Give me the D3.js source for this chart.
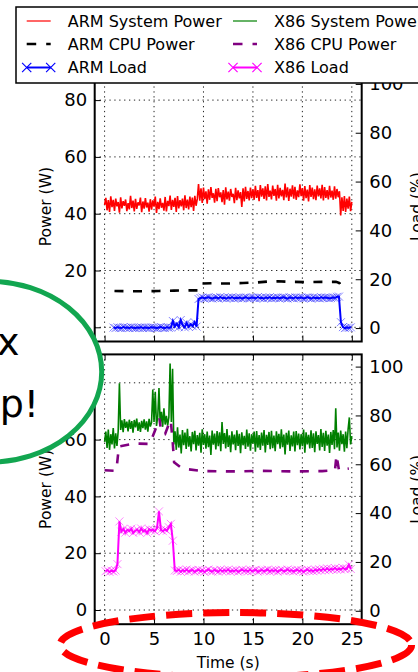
<!DOCTYPE html>
<html>
<head>
<meta charset="utf-8">
<script src="https://d3js.org/d3.v7.min.js"></script>
<style>
  body { margin: 0; background: #fff; }
  svg { display: block; font-family: "DejaVu Sans", sans-serif; }
</style>
</head>
<body>
<div id="chart"></div>
<script>

//////////
// DATA //
//////////

var seriesNames = ["ARM System Power", "ARM CPU Power", "ARM Load",
                   "X86 System Power", "X86 CPU Power", "X86 Load"];

var timeTicks = [0, 5, 10, 15, 20, 25];
var powerTicks = [0, 20, 40, 60, 80];
var loadTicks = [0, 20, 40, 60, 80, 100];

// power meter samples, one every 0.125 s from t = 0
var powerStep = 0.125;

var armSysPower = [
  43.1,45.6,41.2,44.8,40.6,46.1,42.3,44.9,41.0,45.3,
  42.6,44.1,40.4,45.8,41.9,44.4,42.8,45.0,40.9,43.7,
  41.5,46.3,42.0,44.6,40.8,45.2,41.7,44.0,42.9,45.7,
  40.5,44.3,41.8,45.5,42.2,43.9,40.7,45.1,41.4,44.7,
  42.5,46.0,40.3,44.2,41.6,45.4,42.1,43.8,41.1,45.9,
  40.8,44.5,42.7,46.4,41.3,44.9,42.4,45.6,40.6,46.2,
  41.9,44.8,42.6,45.3,41.2,46.5,42.0,45.0,41.5,46.0,
  42.3,45.7,41.0,46.3,42.8,45.2,
  50.4,44.6,48.9,43.8,49.2,45.1,47.9,43.5,48.6,44.9,
  49.4,45.6,47.2,43.9,48.8,44.4,49.0,45.8,47.5,44.1,
  48.3,43.2,49.3,45.0,47.8,44.6,48.7,45.9,47.0,43.7,
  49.1,44.8,48.2,45.4,47.6,42.4,48.9,44.3,49.5,45.2,
  48.0,44.7,49.2,45.5,
  48.6,44.9,49.8,45.6,48.3,44.4,50.1,46.0,48.9,45.2,
  49.6,44.7,50.4,45.9,48.1,45.0,49.9,46.3,48.7,44.6,
  50.2,45.4,49.1,46.1,48.4,44.8,50.6,45.7,49.3,44.5,
  48.8,46.0,50.0,45.3,49.5,44.9,48.2,45.8,50.3,46.2,
  49.0,44.6,49.7,45.5,48.5,44.3,50.1,45.9,49.2,45.1,
  48.6,44.8,49.9,46.1,48.9,45.4,50.2,44.7,49.4,45.6,
  48.3,45.0,49.8,45.7,48.1,44.9,49.6,45.3,48.7,45.8,
  47.9,
  39.4,45.8,41.0,46.2,40.6,45.3,41.8,46.0,40.9,44.2
];

var x86SysPower = [
  59.2,62.8,57.1,63.5,56.4,61.9,58.3,64.1,56.9,62.2,57.8,63.0,
  79.8,
  63.4,66.8,62.6,67.2,64.1,66.3,62.9,67.0,63.8,66.5,62.4,66.9,64.3,
  67.4,63.1,66.1,62.7,66.6,64.0,67.1,63.5,66.4,62.8,67.3,64.6,66.0,
  77.6,66.2,76.8,64.8,68.1,78.2,65.2,69.8,64.5,71.0,65.3,68.4,64.9,
  67.9,86.8,66.2,84.9,58.3,
  62.9,56.4,64.3,57.2,61.8,55.1,63.4,58.0,62.5,56.7,
  63.8,57.5,61.2,55.8,62.7,58.4,63.1,56.2,61.6,57.9,
  62.4,55.4,63.6,58.1,61.9,56.8,62.8,57.3,61.4,54.6,
  63.2,58.2,62.1,56.5,63.0,57.7,62.6,55.9,66.2,58.5,
  62.3,56.9,63.7,57.4,61.5,55.6,62.9,58.3,61.8,56.3,
  63.3,57.8,62.0,55.2,62.6,58.0,61.3,56.7,63.5,57.5,
  62.2,56.1,61.9,58.6,62.8,55.7,63.0,57.2,61.6,56.4,
  62.5,57.9,63.4,55.5,61.7,58.1,62.7,56.6,63.1,57.0,
  61.4,55.9,62.9,58.4,62.0,56.8,63.6,57.3,61.8,54.8,
  62.4,58.2,63.2,56.0,61.5,57.6,62.8,55.8,63.0,58.0,
  62.1,56.5,61.9,57.7,63.5,55.4,62.6,58.3,61.7,56.9,
  63.3,57.1,62.2,55.6,62.9,58.5,61.6,56.2,63.7,57.4,
  62.4,56.0,63.1,57.9,61.8,55.3,62.7,58.1,63.4,56.6,
  71.0,57.2,62.5,56.1,63.2,58.4,61.9,55.7,62.8,57.0,
  63.6,67.8,58.3,61.2
];

// cpu power (smoothed), time in s
var armCpuTime  = [1.0, 2.5, 4.0, 5.5, 7.0, 8.5, 9.4, 9.7, 11.0, 12.5, 14.0, 15.5, 16.5, 17.5, 19.0, 20.5, 22.0, 23.4, 23.75, 24.05];
var armCpuPower = [12.8, 12.7, 12.7, 12.8, 12.9, 13.0, 13.0, 15.4, 15.5, 15.4, 15.6, 15.8, 16.1, 16.2, 16.0, 15.9, 16.0, 16.0, 15.6, 13.4];

var x86CpuTime  = [0.0, 1.1, 1.25, 1.45, 3.0, 4.5, 4.78, 5.11, 5.55, 5.72, 6.12, 6.45, 6.69, 6.89, 7.03, 7.63, 8.3, 10, 13, 16, 19, 22, 23.3, 23.45, 23.7, 24.7];
var x86CpuPower = [49.2, 49.0, 51.0, 57.6, 58.6, 58.5, 60.4, 63.3, 67.4, 62.7, 62.0, 65.0, 66.8, 59.0, 52.0, 50.4, 49.6, 48.9, 48.8, 49.0, 48.8, 48.9, 49.2, 54.5, 49.3, 49.8];

// load samples, one every 0.2 s
var loadStep = 0.2;

var armLoadStart = 0.9;
var armLoad = [
  0.2,0.0,0.3,0.1,0.0,0.4,0.1,0.2,0.0,0.3,
  0.1,0.0,0.2,0.1,0.3,0.0,0.2,0.1,0.0,0.3,
  0.2,0.1,0.0,0.2,0.4,0.1,0.0,0.3,0.1,0.2,
  2.9,0.6,1.8,0.4,3.3,1.2,0.3,2.1,0.5,1.6,0.8,2.4,0.6,
  11.9,
  12.3,12.5,12.2,12.4,12.6,12.3,12.1,12.4,12.5,12.2,
  12.7,12.3,12.4,12.1,12.5,12.3,12.6,12.2,12.4,12.3,
  12.5,12.1,12.4,12.6,12.2,12.3,12.5,12.4,12.2,12.7,
  12.3,12.4,12.1,12.5,12.3,12.6,12.2,12.4,12.3,12.5,
  12.2,12.4,12.6,12.3,12.1,12.5,12.4,12.2,12.6,12.3,
  12.4,12.5,12.2,12.3,12.6,12.4,12.1,12.5,12.3,12.4,
  12.2,12.6,12.3,12.5,12.4,12.2,12.3,12.5,12.4,
  12.8,12.9,2.4,
  0.4,0.0,0.2,0.1,0.3
];

var x86LoadStart = 0.1;
var x86Load = [
  16.2,16.6,15.9,16.4,16.1,16.5,
  19.1,36.6,
  32.4,33.5,32.0,33.1,32.7,33.6,31.9,32.8,33.3,32.2,33.7,32.5,33.0,31.8,33.4,32.9,33.2,32.6,
  33.9,40.7,33.1,32.6,33.4,32.8,34.2,35.6,28.7,16.5,
  16.3,16.8,16.0,16.6,16.2,16.9,16.1,16.5,16.7,16.0,
  16.4,16.8,16.2,16.6,15.9,16.5,16.9,16.3,16.1,16.7,
  16.4,16.0,16.8,16.2,16.6,16.3,16.9,16.1,16.5,16.2,
  16.7,16.0,16.4,16.8,16.3,16.6,16.1,16.9,16.2,16.5,
  16.8,16.0,16.4,16.7,16.2,16.5,16.9,16.1,16.6,16.3,
  16.7,16.0,16.5,16.8,16.2,16.4,16.9,16.3,16.6,16.1,
  16.5,16.8,16.2,16.7,16.0,16.4,16.9,16.3,16.6,16.2,
  16.8,16.4,17.0,16.5,17.2,16.6,17.4,16.7,17.1,16.9,
  17.5,16.8,17.3,16.9,17.6,17.0,17.2,18.9,17.1
];

//////////
// LAYOUT //
//////////

var W = 418, H = 672;
var plotLeft = 94.7, plotRight = 361.7;
var panels = [
  { top: 71.7,  bottom: 341.5, showTime: false,
    sys: armSysPower, sysColor: "#ff0000",
    cpuT: armCpuTime, cpuV: armCpuPower, cpuColor: "#000000",
    load: armLoad, loadStart: armLoadStart, loadColor: "#0000ff" },
  { top: 354.4, bottom: 624.2, showTime: true,
    sys: x86SysPower, sysColor: "#008000",
    cpuT: x86CpuTime, cpuV: x86CpuPower, cpuColor: "#800080",
    load: x86Load, loadStart: x86LoadStart, loadColor: "#ff00ff" }
];

var tickFont = 18, labelFont = 15.5, legendFont = 16;
var dash = "9,9.5";
var xMark = "M-4,-4L4,4M-4,4L4,-4";

var svg = d3.select("#chart")
  .append("svg")
  .attr("width", W)
  .attr("height", H);

svg.append("rect").attr("width", W).attr("height", H).attr("fill", "#fff");

var x = d3.scaleLinear()
  .domain([-1, 26])
  .range([plotLeft, plotRight]);

function samples(values, t0, dt) {
  return values.map(function (v, i) { return { t: t0 + i * dt, v: v }; });
}

function styleAxis(a) {
  a.select(".domain").remove();
  a.selectAll("line").attr("stroke", "#000").attr("stroke-width", 1);
  a.selectAll("text")
    .attr("font-size", tickFont)
    .attr("font-family", "DejaVu Sans, sans-serif")
    .attr("fill", "#000");
}

//////////
// PANELS //
//////////

panels.forEach(function (p, k) {

  var yP = d3.scaleLinear().domain([-5, 90]).range([p.bottom, p.top]);
  var yL = d3.scaleLinear().domain([-5.5, 105]).range([p.bottom, p.top]);

  var g = svg.append("g");

  g.append("clipPath")
    .attr("id", "clip" + k)
    .append("rect")
    .attr("x", plotLeft).attr("y", p.top)
    .attr("width", plotRight - plotLeft)
    .attr("height", p.bottom - p.top);

  // dotted grid
  var grid = g.append("g")
    .attr("stroke", "#222")
    .attr("stroke-width", 1)
    .attr("stroke-dasharray", "1.3,3.6");
  grid.selectAll(".gx").data(timeTicks).enter().append("line")
    .attr("x1", function (d) { return x(d); })
    .attr("x2", function (d) { return x(d); })
    .attr("y1", p.top).attr("y2", p.bottom);
  grid.selectAll(".gy").data(powerTicks).enter().append("line")
    .attr("x1", plotLeft).attr("x2", plotRight)
    .attr("y1", function (d) { return yP(d); })
    .attr("y2", function (d) { return yP(d); });

  var area = g.append("g").attr("clip-path", "url(#clip" + k + ")");

  // system power
  var sysLine = d3.line()
    .x(function (d) { return x(d.t); })
    .y(function (d) { return yP(d.v); });
  area.append("path")
    .datum(samples(p.sys, 0, powerStep))
    .attr("fill", "none")
    .attr("stroke", p.sysColor)
    .attr("stroke-width", 1.6)
    .attr("stroke-linejoin", "bevel")
    .attr("d", sysLine);

  // cpu power
  var cpuData = p.cpuT.map(function (t, i) { return { t: t, v: p.cpuV[i] }; });
  area.append("path")
    .datum(cpuData)
    .attr("fill", "none")
    .attr("stroke", p.cpuColor)
    .attr("stroke-width", 2.6)
    .attr("stroke-dasharray", dash)
    .attr("d", sysLine);

  // load on the right axis
  var loadData = samples(p.load, p.loadStart, loadStep);
  var loadLine = d3.line()
    .x(function (d) { return x(d.t); })
    .y(function (d) { return yL(d.v); });
  area.append("path")
    .datum(loadData)
    .attr("fill", "none")
    .attr("stroke", p.loadColor)
    .attr("stroke-width", 2)
    .attr("d", loadLine);
  area.selectAll(".mk")
    .data(loadData)
    .enter()
    .append("path")
    .attr("transform", function (d) { return "translate(" + x(d.t) + "," + yL(d.v) + ")"; })
    .attr("d", xMark)
    .attr("fill", "none")
    .attr("stroke", p.loadColor)
    .attr("stroke-opacity", 0.6)
    .attr("stroke-width", 0.8);

  //////////
  // AXIS //
  //////////

  var leftAxis = g.append("g")
    .attr("transform", "translate(" + plotLeft + ",0)")
    .call(d3.axisLeft(yP).tickValues(powerTicks).tickSize(-6).tickPadding(7.5));
  styleAxis(leftAxis);

  var rightAxis = g.append("g")
    .attr("transform", "translate(" + plotRight + ",0)")
    .call(d3.axisRight(yL).tickValues(loadTicks).tickSize(-6).tickPadding(7.5));
  styleAxis(rightAxis);

  var bottomAxis = d3.axisBottom(x).tickValues(timeTicks).tickSize(-6).tickPadding(8);
  if (!p.showTime) bottomAxis.tickFormat("");
  var xAxis = g.append("g")
    .attr("transform", "translate(0," + p.bottom + ")")
    .call(bottomAxis);
  styleAxis(xAxis);

  var topAxis = g.append("g")
    .attr("transform", "translate(0," + p.top + ")")
    .call(d3.axisTop(x).tickValues(timeTicks).tickSize(-6).tickFormat(""));
  styleAxis(topAxis);

  g.append("rect")
    .attr("x", plotLeft).attr("y", p.top)
    .attr("width", plotRight - plotLeft)
    .attr("height", p.bottom - p.top)
    .attr("fill", "none")
    .attr("stroke", "#000")
    .attr("stroke-width", 2);

  var mid = (p.top + p.bottom) / 2;
  g.append("text")
    .attr("transform", "translate(51," + mid + ") rotate(-90)")
    .attr("text-anchor", "middle")
    .attr("font-size", labelFont)
    .text("Power (W)");
  g.append("text")
    .attr("transform", "translate(421.5," + mid + ") rotate(-90)")
    .attr("text-anchor", "middle")
    .attr("font-size", labelFont)
    .text("Load (%)");

  if (p.showTime) {
    g.append("text")
      .attr("x", (plotLeft + plotRight) / 2)
      .attr("y", 668)
      .attr("text-anchor", "middle")
      .attr("font-size", labelFont)
      .text("Time (s)");
  }
});

//////////
// LEGEND //
//////////

var legend = svg.append("g");
legend.append("rect")
  .attr("x", 16).attr("y", 7)
  .attr("width", 430).attr("height", 76)
  .attr("fill", "#fff")
  .attr("stroke", "#000")
  .attr("stroke-width", 1.5);

var legendItems = [
  { name: seriesNames[0], color: "#ff0000", kind: "solid" },
  { name: seriesNames[1], color: "#000000", kind: "dash" },
  { name: seriesNames[2], color: "#0000ff", kind: "load" },
  { name: seriesNames[3], color: "#008000", kind: "solid" },
  { name: seriesNames[4], color: "#800080", kind: "dash" },
  { name: seriesNames[5], color: "#ff00ff", kind: "load" }
];
var rowY = [21, 44, 67.5];
var colX = [26.7, 233];
var sampleLen = 24;

legendItems.forEach(function (d, i) {
  var cx = colX[Math.floor(i / 3)], cy = rowY[i % 3];
  var item = legend.append("g");
  var ln = item.append("line")
    .attr("x1", cx).attr("x2", cx + sampleLen)
    .attr("y1", cy).attr("y2", cy)
    .attr("stroke", d.color);
  if (d.kind === "solid") ln.attr("stroke-width", 1.2);
  if (d.kind === "dash") ln.attr("stroke-width", 2.6).attr("stroke-dasharray", "9.5,10");
  if (d.kind === "load") {
    ln.attr("stroke-width", 2);
    [cx, cx + sampleLen].forEach(function (mx) {
      item.append("path")
        .attr("transform", "translate(" + mx + "," + cy + ") scale(1.15)")
        .attr("d", xMark)
        .attr("fill", "none")
        .attr("stroke", d.color)
        .attr("stroke-width", 1);
    });
  }
  item.append("text")
    .attr("x", cx + 41)
    .attr("y", cy)
    .attr("dy", "0.36em")
    .attr("font-size", legendFont)
    .text(d.name);
});

//////////
// ANNOTATIONS //
//////////

// green callout bubble, mostly off the left edge
var bubble = svg.append("g");
bubble.append("ellipse")
  .attr("cx", -11.3).attr("cy", 371.7)
  .attr("rx", 113).attr("ry", 90.5)
  .attr("fill", "#fff")
  .attr("stroke", "#12a650")
  .attr("stroke-width", 5);
bubble.append("text")
  .attr("x", 19.5).attr("y", 355)
  .attr("text-anchor", "end")
  .attr("font-size", 38)
  .text("x");
bubble.append("text")
  .attr("x", 39).attr("y", 417)
  .attr("text-anchor", "end")
  .attr("font-size", 38)
  .text("p!");

// red dashed ring round the time axis
svg.append("ellipse")
  .attr("cx", 235.8).attr("cy", 645)
  .attr("rx", 175.8).attr("ry", 32.5)
  .attr("fill", "none")
  .attr("stroke", "#ff0000")
  .attr("stroke-width", 7)
  .attr("stroke-dasharray", "26,11");

</script>
</body>
</html>
